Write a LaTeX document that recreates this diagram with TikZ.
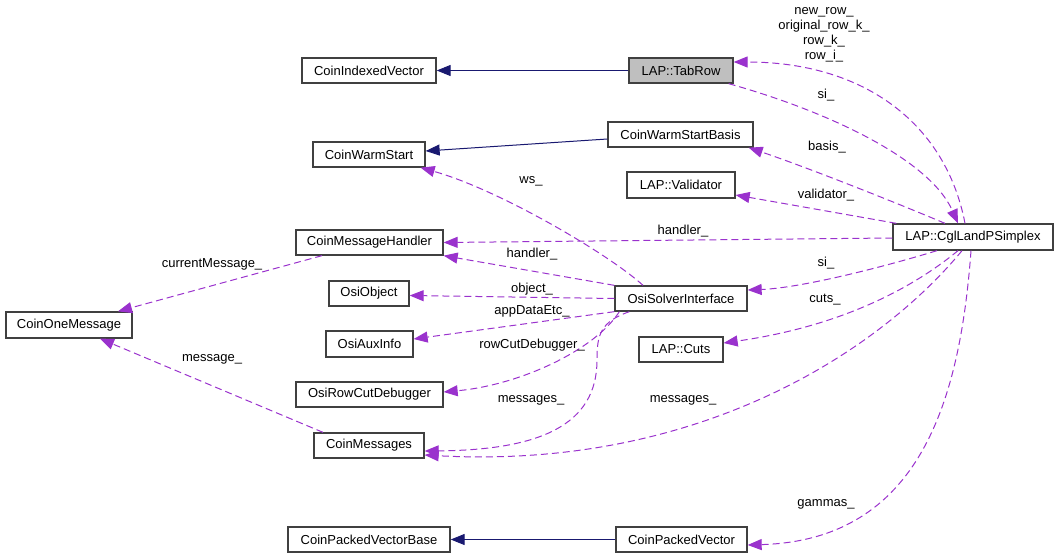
\documentclass[tikz,border=0pt]{standalone}
\usepackage{fontspec}
\setmainfont{Liberation Sans}
\usetikzlibrary{arrows.meta,calc}
\definecolor{dep}{HTML}{9A32CD}
\definecolor{inh}{HTML}{191970}
\definecolor{bord}{HTML}{404040}
\begin{document}
\begin{tikzpicture}[x=1pt,y=-1pt,
  every node/.style={font=\fontsize{13}{15}\selectfont},
  box/.style={draw=bord,line width=1.3pt,fill=white,minimum height=25pt,inner sep=0pt,anchor=center},
  lbl/.style={inner sep=0pt,align=center},
  inherit/.style={draw=inh,line width=1pt,-{Triangle[length=14pt,width=11pt]}},
  uses/.style={draw=dep,line width=1pt,dash pattern=on 7pt off 4pt,-{Triangle[length=14pt,width=11pt]}}]
\useasboundingbox (0,0) rectangle (1059,559);
% nodes
\node[box,minimum width=134pt] (civ) at (369,70.5) {CoinIndexedVector};
\node[box,minimum width=104pt,fill={rgb,255:red,191;green,191;blue,191}] (tabrow) at (681,70.5) {LAP::TabRow};
\node[box,minimum width=145pt] (cwsb) at (680.5,134.5) {CoinWarmStartBasis};
\node[box,minimum width=112pt] (cws) at (369,154.5) {CoinWarmStart};
\node[box,minimum width=108pt,minimum height=26pt] (val) at (681,185) {LAP::Validator};
\node[box,minimum width=160pt,minimum height=26pt] (cgl) at (973,237) {LAP::CglLandPSimplex};
\node[box,minimum width=147pt] (cmh) at (369.5,242.5) {CoinMessageHandler};
\node[box,minimum width=80pt] (oobj) at (369,293.5) {OsiObject};
\node[box,minimum width=132pt] (osi) at (681,298.5) {OsiSolverInterface};
\node[box,minimum width=126pt,minimum height=26pt] (com) at (69,325) {CoinOneMessage};
\node[box,minimum width=87pt,minimum height=26pt] (aux) at (369.5,344) {OsiAuxInfo};
\node[box,minimum width=84pt] (cuts) at (681,349.5) {LAP::Cuts};
\node[box,minimum width=147pt] (rcd) at (369.5,394.5) {OsiRowCutDebugger};
\node[box,minimum width=110pt] (cm) at (369,445.5) {CoinMessages};
\node[box,minimum width=162pt] (cpvb) at (369,539.5) {CoinPackedVectorBase};
\node[box,minimum width=131pt] (cpv) at (681.5,539.5) {CoinPackedVector};
% inheritance
\draw[inherit] (tabrow.west) -- (civ.east);
\draw[inherit] ([yshift=-4.5pt]cwsb.west) -- ([yshift=3.5pt]cws.east);
\draw[inherit] (cpv.west) -- (cpvb.east);
% usage
\draw[uses] ([xshift=-8pt]cgl.north) .. controls (945,120) and (860,62) .. ([yshift=8.5pt]tabrow.east);
\draw[uses] ([xshift=-5pt]tabrow.south east) .. controls (830,112) and (930,160) .. ([xshift=-15pt]cgl.north);
\draw[uses] ([xshift=-28pt]cgl.north) .. controls (880,196) and (800,165) .. ([xshift=-5pt]cwsb.south east);
\draw[uses] ([xshift=4pt]cgl.north west) -- ([yshift=-10pt]val.east);
\draw[uses] ([yshift=-1pt]cgl.west) -- (cmh.east);
\draw[uses] (osi.north west) -- (cmh.south east);
\draw[uses] ([xshift=-38pt]osi.north) .. controls (610,255) and (500,190) .. ([xshift=-5pt]cws.south east);
\draw[uses] (osi.west) -- ([yshift=-2pt]oobj.east);
\draw[uses] (osi.south west) -- ([yshift=5pt]aux.east);
\draw[uses] ([xshift=5pt]osi.south west) .. controls (595,350) and (520,385) .. ([yshift=2.5pt]rcd.east);
\draw[uses] ([xshift=15pt]osi.south west) .. controls (600,322) and (597,335) .. (597,360) .. controls (597,425) and (540,450) .. ([yshift=-5.5pt]cm.east);
\draw[uses] ([xshift=-36pt]cgl.south) .. controls (880,268) and (800,288) .. ([yshift=8.5pt]osi.east);
\draw[uses] ([xshift=-15pt]cgl.south) .. controls (920,282) and (850,325) .. ([yshift=6.5pt]cuts.east);
\draw[uses] ([xshift=-11pt]cgl.south) .. controls (880,350) and (700,470) .. ([yshift=-9.5pt]cm.east);
\draw[uses] ([xshift=-2pt]cgl.south) .. controls (960,400) and (920,540) .. ([yshift=-5.5pt]cpv.east);
\draw[uses] ([xshift=-47.5pt]cmh.south) -- ([xshift=49pt]com.north);
\draw[uses] ([xshift=-46pt]cm.north) -- ([xshift=31pt]com.south);
% labels
\node[lbl] (lrows) at (824,34.5) {new\_row\_\\original\_row\_k\_\\row\_k\_\\row\_i\_};
\node[lbl] (lsi1) at (826,95) {si\_};
\node[lbl] (lbasis) at (827,147) {basis\_};
\node[lbl] (lval) at (826,195) {validator\_};
\node[lbl] (lh1) at (683,231) {handler\_};
\node[lbl] (lsi2) at (826,263) {si\_};
\node[lbl] (lcuts) at (825,300) {cuts\_};
\node[lbl] (lmsg2) at (683,400) {messages\_};
\node[lbl] (lgam) at (826,504) {gammas\_};
\node[lbl] (lws) at (531,181) {ws\_};
\node[lbl] (lh2) at (532,254) {handler\_};
\node[lbl] (lobj) at (532,289) {object\_};
\node[lbl] (lapp) at (532,311) {appDataEtc\_};
\node[lbl] (lrcd) at (532,345) {rowCutDebugger\_};
\node[lbl] (lmsg1) at (531,400) {messages\_};
\node[lbl] (lcur) at (212,264) {currentMessage\_};
\node[lbl] (lmsg) at (212,359) {message\_};
\end{tikzpicture}
\end{document}
